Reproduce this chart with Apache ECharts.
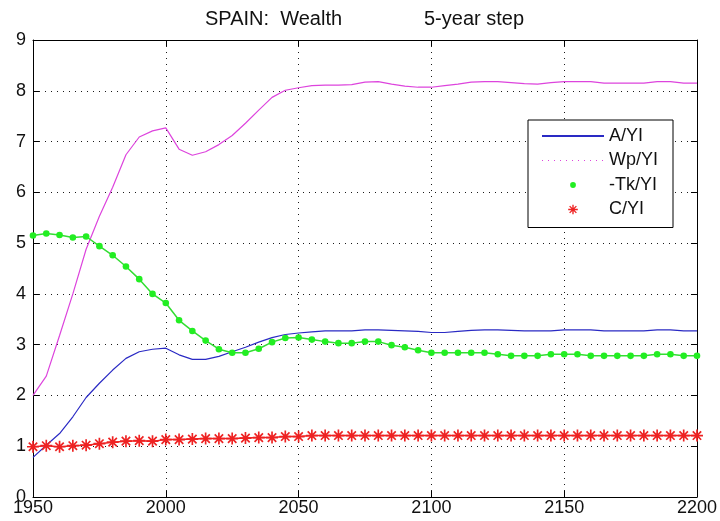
<!DOCTYPE html>
<html>
<head>
<meta charset="utf-8">
<script src="https://cdn.jsdelivr.net/npm/echarts@6/dist/echarts.min.js"></script>
<style>
  html, body { margin: 0; padding: 0; background: #fff; }
  #chart { width: 720px; height: 521px; }
</style>
</head>
<body>
<div id="chart"></div>
<script>
// Simulation years, 5-year step
const years = [1950, 1955, 1960, 1965, 1970, 1975, 1980, 1985, 1990, 1995,
               2000, 2005, 2010, 2015, 2020, 2025, 2030, 2035, 2040, 2045,
               2050, 2055, 2060, 2065, 2070, 2075, 2080, 2085, 2090, 2095,
               2100, 2105, 2110, 2115, 2120, 2125, 2130, 2135, 2140, 2145,
               2150, 2155, 2160, 2165, 2170, 2175, 2180, 2185, 2190, 2195, 2200];

// A/YI
const aYI = [0.78, 1.02, 1.25, 1.58, 1.96, 2.24, 2.50, 2.73, 2.86, 2.91,
             2.93, 2.80, 2.71, 2.71, 2.77, 2.86, 2.95, 3.05, 3.14, 3.20,
             3.23, 3.25, 3.27, 3.27, 3.27, 3.29, 3.29, 3.28, 3.27, 3.26,
             3.24, 3.24, 3.26, 3.28, 3.29, 3.29, 3.28, 3.27, 3.27, 3.27,
             3.29, 3.29, 3.29, 3.27, 3.27, 3.27, 3.27, 3.29, 3.29, 3.27, 3.27];

// Wp/YI
const wpYI = [2.00, 2.38, 3.18, 4.00, 4.88, 5.53, 6.10, 6.74, 7.09, 7.21,
              7.27, 6.85, 6.73, 6.80, 6.94, 7.12, 7.36, 7.62, 7.87, 8.01,
              8.06, 8.10, 8.11, 8.11, 8.12, 8.17, 8.18, 8.13, 8.09, 8.07,
              8.07, 8.10, 8.13, 8.17, 8.18, 8.18, 8.16, 8.14, 8.13, 8.16,
              8.18, 8.18, 8.18, 8.15, 8.15, 8.15, 8.15, 8.18, 8.18, 8.15, 8.15];

// -Tk/YI
const tkYI = [5.15, 5.19, 5.16, 5.11, 5.13, 4.94, 4.76, 4.54, 4.29, 4.00,
              3.82, 3.48, 3.27, 3.08, 2.91, 2.84, 2.84, 2.92, 3.05, 3.13,
              3.14, 3.10, 3.06, 3.03, 3.03, 3.06, 3.06, 2.99, 2.95, 2.89,
              2.84, 2.84, 2.84, 2.84, 2.84, 2.81, 2.78, 2.78, 2.78, 2.81,
              2.81, 2.81, 2.78, 2.78, 2.78, 2.78, 2.78, 2.81, 2.81, 2.78, 2.78];

// C/YI
const cYI = [0.99, 1.01, 0.99, 1.01, 1.02, 1.05, 1.08, 1.10, 1.11, 1.10,
             1.13, 1.13, 1.14, 1.15, 1.15, 1.15, 1.16, 1.17, 1.17, 1.19,
             1.19, 1.21, 1.21, 1.21, 1.21, 1.21, 1.21, 1.21, 1.21, 1.21,
             1.21, 1.21, 1.21, 1.21, 1.21, 1.21, 1.21, 1.21, 1.21, 1.21,
             1.21, 1.21, 1.21, 1.21, 1.21, 1.21, 1.21, 1.21, 1.21, 1.21, 1.21];

const seriesNames = ['A/YI', 'Wp/YI', '-Tk/YI', 'C/YI'];
const titleLeft = 'SPAIN:  Wealth';
const titleRight = '5-year step';

const FONT = '"Liberation Sans", Arial, Helvetica, sans-serif';
const pairs = arr => years.map((y, i) => [y, arr[i]]);

// filled dot with a margin inside its box, so the legend icon stays small
const DOT = 'path://M0,0 M10,10 M2,5 A3,3 0 1,1 8,5 A3,3 0 1,1 2,5 Z';
// eight-armed asterisk marker
const STAR = 'path://M4.3,0 L5.7,0 L5.7,10 L4.3,10 Z ' +
             'M0,4.3 L10,4.3 L10,5.7 L0,5.7 Z ' +
             'M2.0,1.0 L9.0,8.0 L8.0,9.0 L1.0,2.0 Z ' +
             'M8.0,1.0 L9.0,2.0 L2.0,9.0 L1.0,8.0 Z';

const dotted = { color: '#1a1a1a', width: 1, type: [1, 5] };
const blank = { color: 'rgba(0,0,0,0)', borderWidth: 0, opacity: 0 };

const chart = echarts.init(document.getElementById('chart'), null, { renderer: 'canvas' });

chart.setOption({
  animation: false,
  backgroundColor: '#fff',
  grid: { left: 33, right: 21, top: 40, bottom: 24, containLabel: false },
  graphic: [
    { type: 'text', x: 205, y: 9, style: { text: titleLeft, font: '20px ' + FONT, fill: '#111' } },
    { type: 'text', x: 424, y: 9, style: { text: titleRight, font: '20px ' + FONT, fill: '#111' } }
  ],
  legend: {
    orient: 'vertical',
    left: 528,
    top: 120,
    padding: [6, 15, 8, 13],
    itemWidth: 62,
    itemHeight: 12,
    itemGap: 4.5,
    backgroundColor: '#fff',
    borderColor: '#000',
    borderWidth: 1,
    borderRadius: 0,
    selectedMode: false,
    textStyle: { fontSize: 18, fontFamily: FONT, color: '#111', lineHeight: 20 },
    data: [
      { name: seriesNames[0], itemStyle: blank },
      { name: seriesNames[1], itemStyle: blank, lineStyle: { type: [1, 5], width: 1 } },
      { name: seriesNames[2], lineStyle: { opacity: 0 } },
      { name: seriesNames[3], lineStyle: { opacity: 0 } }
    ]
  },
  xAxis: [
    {
      type: 'value', min: 1950, max: 2200, interval: 50,
      axisLine: { show: true, onZero: false, lineStyle: { color: '#000', width: 1 } },
      axisTick: { show: true, inside: true, length: 6, lineStyle: { color: '#000' } },
      axisLabel: { show: true, margin: 2, fontSize: 18, fontFamily: FONT, color: '#111',
                   formatter: v => String(v) },
      splitLine: { show: true, lineStyle: dotted }
    },
    {
      type: 'value', position: 'top', min: 1950, max: 2200, interval: 50,
      axisLine: { show: true, onZero: false, lineStyle: { color: '#000', width: 1 } },
      axisTick: { show: true, inside: true, length: 6, lineStyle: { color: '#000' } },
      axisLabel: { show: false },
      splitLine: { show: false }
    }
  ],
  yAxis: [
    {
      type: 'value', min: 0, max: 9, interval: 1,
      axisLine: { show: true, onZero: false, lineStyle: { color: '#000', width: 1 } },
      axisTick: { show: true, inside: true, length: 6, lineStyle: { color: '#000' } },
      axisLabel: { show: true, margin: 7, fontSize: 18, fontFamily: FONT, color: '#111' },
      splitLine: { show: true, lineStyle: dotted }
    },
    {
      type: 'value', position: 'right', min: 0, max: 9, interval: 1,
      axisLine: { show: true, onZero: false, lineStyle: { color: '#000', width: 1 } },
      axisTick: { show: true, inside: true, length: 6, lineStyle: { color: '#000' } },
      axisLabel: { show: false },
      splitLine: { show: false }
    }
  ],
  series: [
    {
      name: seriesNames[0], type: 'line', data: pairs(aYI),
      symbol: 'none', lineStyle: { color: '#2a2ac4', width: 1.2 },
      itemStyle: { color: '#2a2ac4' }
    },
    {
      name: seriesNames[1], type: 'line', data: pairs(wpYI),
      symbol: 'none', lineStyle: { color: '#dd44dd', width: 1.2 },
      itemStyle: { color: '#dd44dd' }
    },
    {
      name: seriesNames[2], type: 'line', data: pairs(tkYI),
      symbol: DOT, symbolSize: 11, showAllSymbol: true,
      lineStyle: { color: '#33dd33', width: 1.5 },
      itemStyle: { color: '#22ee22' }
    },
    {
      name: seriesNames[3], type: 'line', data: pairs(cYI),
      symbol: STAR, symbolSize: 12, showAllSymbol: true,
      lineStyle: { color: '#ee2222', width: 1.5 },
      itemStyle: { color: '#ee2222' }
    }
  ]
});
</script>
</body>
</html>
